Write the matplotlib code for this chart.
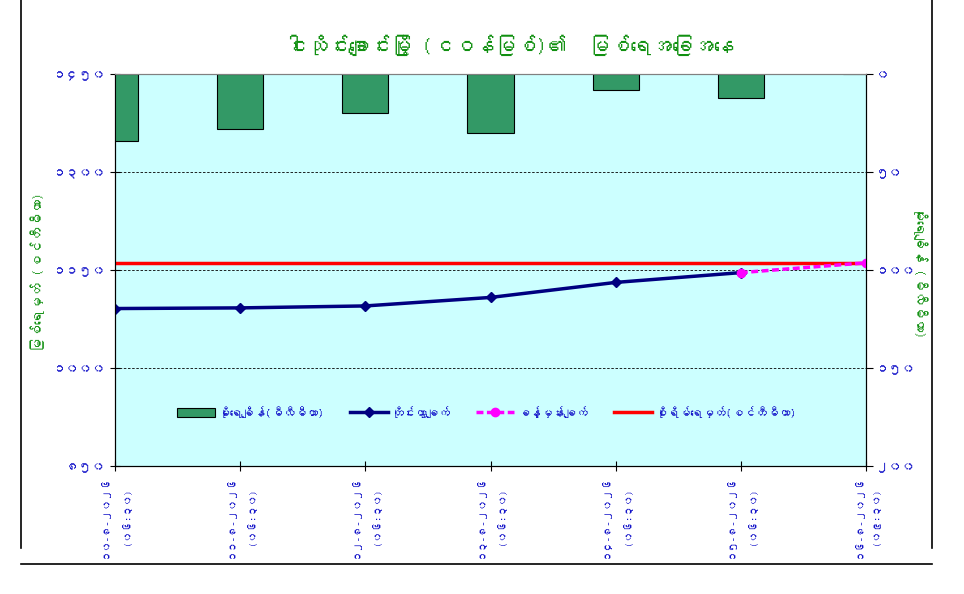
import matplotlib
matplotlib.use("Agg")
import matplotlib.pyplot as plt
from matplotlib import font_manager, ft2font
from matplotlib.lines import Line2D
from matplotlib.patches import Patch
from matplotlib.ticker import FixedLocator, FuncFormatter

# ---- data ----
dates = ["၁၀-၈-၂၀၂၆", "၁၁-၈-၂၀၂၆", "၁၂-၈-၂၀၂၆", "၁၃-၈-၂၀၂၆",
         "၁၄-၈-၂၀၂၆", "၁၅-၈-၂၀၂၆", "၁၆-၈-၂၀၂၆"]
times = ["၀၆:၃၀", "၀၆:၃၀", "၀၆:၃၀", "၀၆:၃၀", "၀၆:၃၀", "၀၆:၃၀", "၀၉:၃၀"]
rainfall = [34, 28, 20, 30, 8, 12, 0]            # mm, right axis (inverted)
observed = [1091, 1092, 1095, 1108, 1131, 1146]   # cm, measured level
forecast = [1146, 1161]                           # cm, last measured -> forecast
danger_level = 1160                               # cm

title = "ငါးသိုင်းချောင်းမြို့ (ငဝန်မြစ်)၏  မြစ်ရေအခြေအနေ"
left_label = "မြစ်ရေမှတ် (စင်တီမီတာ)"
right_label = "မိုးရေချိန် (မီလီမီတာ)"
legend_labels = ["မိုးရေချိန်(မီလီမီတာ)", "တိုင်းထွာချက်", "ခန့်မှန်းချက်",
                 "စိုးရိမ်ရေမှတ်(စင်တီမီတာ)"]

MM_DIGITS = str.maketrans("0123456789", "၀၁၂၃၄၅၆၇၈၉")


def find_myanmar_font():
    """Return the name of an installed font that has Myanmar glyphs, if any"""
    for f in font_manager.fontManager.ttflist:
        try:
            if 0x1000 in ft2font.FT2Font(f.fname).get_charmap():
                return f.name
        except Exception:
            pass
    return None


mm_font = find_myanmar_font()
families = [mm_font, "DejaVu Sans"] if mm_font else ["DejaVu Sans"]
plt.rcParams["font.family"] = families

GREEN = "#119011"
BLUE = "#1010C8"

fig = plt.figure(figsize=(9.64, 5.94), dpi=100)
ax = fig.add_axes([115 / 964, 1 - 466 / 594, 751 / 964, 392 / 594])
ax.set_facecolor("#CCFFFF")
ax2 = ax.twinx()

x = list(range(len(dates)))

# rainfall bars hang from the top (inverted secondary axis)
ax2.bar(x, rainfall, width=0.37, color="#339966", edgecolor="black", lw=0.8)
ax2.set_ylim(200, 0)
ax2.yaxis.set_major_locator(FixedLocator([0, 50, 100, 150, 200]))

# water levels
ax.axhline(danger_level, color="#FF0000", lw=2.5, zorder=3)
ax.plot(x[:len(observed)], observed, color="#000080", lw=2.5, marker="D",
        ms=5, zorder=4)
ax.plot(x[len(observed) - 1:], forecast, color="#FF00FF", lw=2.5, ls=(0, (2, 1)),
        marker="o", ms=6, zorder=5)

ax.set_xlim(0, len(dates) - 1)
ax.set_ylim(850, 1450)
ax.yaxis.set_major_locator(FixedLocator([850, 1000, 1150, 1300, 1450]))
ax.grid(axis="y", color="black", ls=(0, (3, 2)), lw=0.6)
ax.set_axisbelow(True)

fmt = FuncFormatter(lambda v, pos: str(int(round(v))).translate(MM_DIGITS))
ax.yaxis.set_major_formatter(fmt)
ax2.yaxis.set_major_formatter(fmt)

ax.set_xticks(x)
ax.set_xticklabels([f"{d}\n({t})" for d, t in zip(dates, times)], rotation=90,
                   ha="center", va="top", color=BLUE, fontsize=7.5,
                   fontweight="bold", linespacing=2.3)
ax.tick_params(axis="x", direction="inout", length=7, pad=3)
ax.tick_params(axis="y", direction="inout", length=7, labelcolor=BLUE,
               labelsize=9.5, pad=3)
ax2.tick_params(axis="y", direction="out", length=5, labelcolor=BLUE,
                labelsize=9.5, pad=2)
for a in (ax, ax2):
    for lab in a.get_yticklabels():
        lab.set_fontweight("bold")
    a.spines["top"].set_color("#808080")

# legend
handles = [
    Patch(facecolor="#339966", edgecolor="black", lw=0.8),
    Line2D([], [], color="#000080", lw=2.5, marker="D", ms=5),
    Line2D([], [], color="#FF00FF", lw=2.5, ls=(0, (2, 1)), marker="o", ms=6),
    Line2D([], [], color="#FF0000", lw=2.5),
]
leg = ax2.legend(handles, legend_labels, loc="center", ncol=4,
                 bbox_to_anchor=(0.495, 0.138), frameon=False, fontsize=8.5,
                 handlelength=3.2, handleheight=0.8, columnspacing=2.2,
                 handletextpad=0.3)
for t in leg.get_texts():
    t.set_color(BLUE)
    t.set_fontweight("bold")

# titles
fig.text(510 / 964, 1 - 45 / 594, title, color=GREEN, fontsize=15,
         ha="center", va="center")
fig.text(38 / 964, 1 - 272 / 594, left_label, color=GREEN, fontsize=10,
         rotation=90, ha="center", va="center")
fig.text(920 / 964, 1 - 272 / 594, right_label, color=GREEN, fontsize=10,
         rotation=270, ha="center", va="center")

# outer frame lines
for xs, ys in [([21, 21], [0, 548]), ([932, 932], [0, 548]),
               ([21, 932], [564, 564])]:
    fig.add_artist(Line2D([v / 964 for v in xs], [1 - v / 594 for v in ys],
                          color="black", lw=1.2))

fig.savefig("out.png", dpi=100, facecolor="white")
